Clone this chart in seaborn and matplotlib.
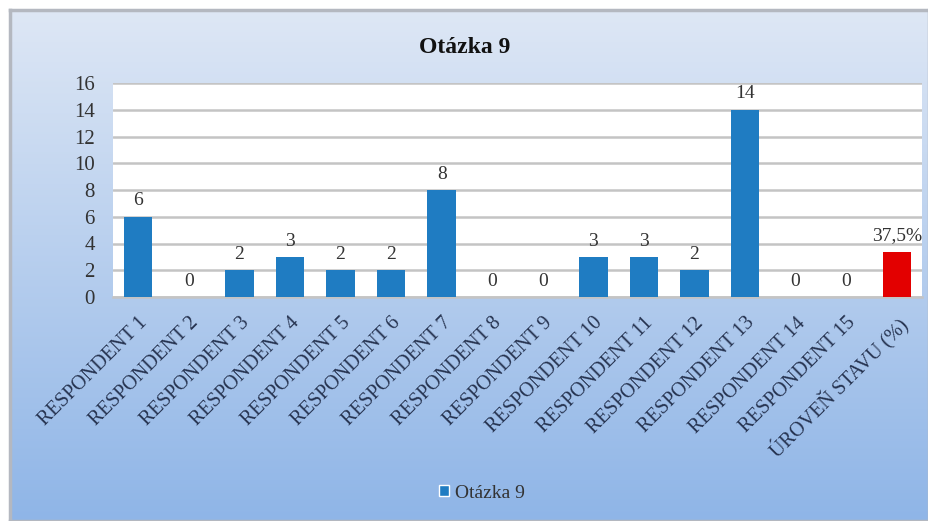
import numpy as np
import pandas as pd
import matplotlib
matplotlib.use("Agg")
import matplotlib.pyplot as plt
from matplotlib.patches import Patch
import seaborn as sns

# Question 9 scores per respondent plus the overall level
categories = [f"RESPONDENT {i}" for i in range(1, 16)] + ["ÚROVEŇ STAVU (%)"]
scores = [6, 0, 2, 3, 2, 2, 8, 0, 0, 3, 3, 2, 14, 0, 0]
level_pct = 37.5          # overall level in percent
level_scale = 9           # points shown for 100 %
value_labels = [str(v) for v in scores] + ["37,5%"]
y_ticks = list(range(0, 17, 2))
series_name = "Otázka 9"
title = "Otázka 9"

values = scores + [level_pct / 100 * level_scale]
df = pd.DataFrame({"cat": categories, "val": values})

sns.set_theme(style="white")
plt.rcParams["font.family"] = ["Liberation Serif", "DejaVu Serif"]

W, H = 929, 521
fig = plt.figure(figsize=(W / 100, H / 100), dpi=100)
fig.patch.set_facecolor("white")

# chart area with vertical blue gradient
bg = fig.add_axes([10 / W, 0, 1 - 10 / W, 1 - 10 / H])
top = np.array([0.870, 0.906, 0.960])
bot = np.array([0.560, 0.710, 0.906])
t = np.linspace(0, 1, 256)[:, None]
grad = top + (bot - top) * t
bg.imshow(grad[:, None, :].repeat(4, axis=1), aspect="auto", extent=[0, 1, 0, 1])
bg.set_xlim(0, 1); bg.set_ylim(0, 1)
bg.set_xticks([]); bg.set_yticks([])
for s in bg.spines.values():
    s.set_color("#b4b8c0"); s.set_linewidth(2.5)

# plot area
ax = fig.add_axes([113 / W, (H - 297) / H, (922 - 113) / W, (297 - 83) / H])
ax.set_facecolor("white")
blue = "#1f7cc2"
red = "#e30000"
palette = [blue] * len(scores) + [red]
sns.barplot(data=df, x="cat", y="val", hue="cat", palette=palette,
            width=0.56, legend=False, ax=ax, saturation=1, zorder=3,
            linewidth=0)

ax.set_ylim(0, 16)
ax.set_xlim(-0.5, len(categories) - 0.5)
ax.set_yticks(y_ticks)
ax.set_yticklabels([str(v) for v in y_ticks], fontsize=15, color="#333333")
ax.yaxis.grid(True, color="#c4c4c4", linewidth=1.8, zorder=0)
ax.set_axisbelow(True)
ax.tick_params(axis="y", length=0, pad=13)
ax.tick_params(axis="x", length=0, pad=12)
ax.set_xticks(range(len(categories)))
ax.set_xticklabels(categories, rotation=45, ha="right", rotation_mode="anchor",
                   fontsize=14.5, color="#263350")
ax.set_xlabel(""); ax.set_ylabel("")
for s in ["top", "right", "left"]:
    ax.spines[s].set_visible(False)
ax.spines["bottom"].set_color("#c4c4c4")
ax.spines["bottom"].set_linewidth(1.8)

for i, (v, lab) in enumerate(zip(values, value_labels)):
    ax.text(i, v + 0.55, lab, ha="center", va="bottom", fontsize=14, color="#333333")

fig.text(0.5, 1 - 47 / H, title, ha="center", va="center", fontsize=17,
         fontweight="bold", color="#111111")

fig.legend(handles=[Patch(facecolor=blue, label=series_name)], loc="center",
           bbox_to_anchor=(482 / W, 1 - 493 / H), frameon=False, fontsize=14,
           handlelength=0.5, handleheight=0.5, handletextpad=0.3,
           labelcolor="#333333")

fig.savefig("out.png", dpi=100)
